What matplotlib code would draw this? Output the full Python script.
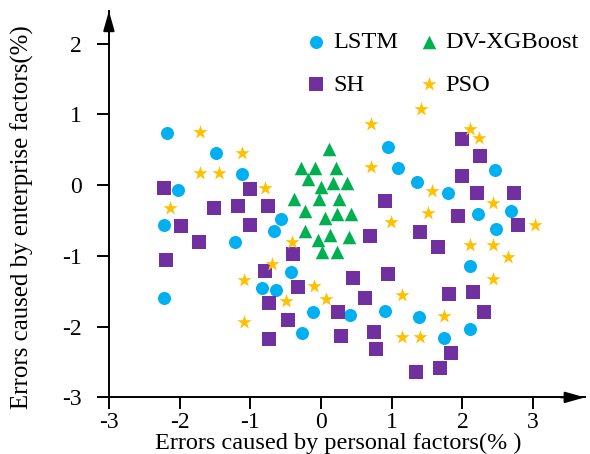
import numpy as np
import matplotlib
matplotlib.use("Agg")
from matplotlib import pyplot as plt

# Data

lstm_x = [-2.18, -1.485, -1.12, -2.03, -2.22, -0.56, -0.66, -1.22, 0.94, 1.09,
          1.36, 1.80, 2.46, 2.22, 2.69, 2.48, -0.43, -0.83, -0.64, -2.22,
          -0.11, -0.27, 0.41, 0.90, 1.38, 1.74, 2.10, 2.10]
lstm_y = [0.74, 0.45, 0.15, -0.075, -0.57, -0.48, -0.65, -0.81, 0.54, 0.235,
          0.04, -0.11, 0.22, -0.41, -0.36, -0.62, -1.23, -1.46, -1.48, -1.60,
          -1.79, -2.09, -1.84, -1.78, -1.86, -2.16, -1.14, -2.03]

xgb_x = [0.11, -0.28, -0.085, 0.21, -0.18, 0.17, 0.36, 0.0, -0.38, -0.03,
         0.26, -0.23, 0.23, 0.42, 0.06, -0.23, 0.13, 0.39, -0.04, 0.01, 0.22]
xgb_y = [0.51, 0.235, 0.235, 0.235, 0.08, 0.03, 0.03, -0.03, -0.19, -0.20,
         -0.20, -0.37, -0.41, -0.41, -0.47, -0.65, -0.71, -0.73, -0.77, -0.94, -0.94]

sh_x = [-2.22, -1.01, -1.52, -1.18, -0.75, -1.98, -1.01, -1.72, -0.39, -2.19,
        2.00, 2.25, 2.00, 2.21, 2.73, 0.90, 1.94, 2.79, 0.69, 1.40,
        1.65, -0.79, -0.33, -0.73, -0.47, -0.73, 0.45, 0.94, 0.62, 0.24,
        0.28, 0.75, 0.78, 1.81, 2.15, 2.31, 1.84, 1.68, 1.34]
sh_y = [-0.04, -0.06, -0.33, -0.29, -0.30, -0.58, -0.57, -0.81, -0.98, -1.06,
        0.645, 0.41, 0.13, -0.11, -0.11, -0.23, -0.44, -0.57, -0.72, -0.66,
        -0.88, -1.21, -1.44, -1.66, -1.90, -2.175, -1.31, -1.26, -1.60, -1.80,
        -2.13, -2.08, -2.32, -1.54, -1.51, -1.79, -2.37, -2.59, -2.64]

pso_x = [-1.71, -1.12, -1.71, -1.45, -0.79, -2.13, -0.41, 1.41, 0.71, 2.10,
         2.23, 0.71, 1.57, 2.43, 1.51, 0.99, 3.02, 2.10, 2.43, 2.64,
         -0.69, -1.09, -0.10, -0.50, 0.07, -1.09, 2.43, 1.15, 1.74, 1.15, 1.40]
pso_y = [0.75, 0.45, 0.165, 0.165, -0.04, -0.33, -0.81, 1.07, 0.86, 0.79,
         0.67, 0.26, -0.085, -0.25, -0.39, -0.52, -0.56, -0.84, -0.85, -1.02,
         -1.12, -1.34, -1.42, -1.64, -1.61, -1.935, -1.33, -1.55, -1.85, -2.15, -2.15]

xticks = [-3, -2, -1, 0, 1, 2, 3]
yticks = [-3, -2, -1, 0, 1, 2]

plt.rcParams['font.family'] = ['Liberation Serif', 'DejaVu Serif']
plt.rcParams['axes.unicode_minus'] = False

fig = plt.figure(figsize=(5.9, 4.54), dpi=100)
ax = fig.add_axes([0.1846, 0.1247, 0.8066, 0.8511])

h_lstm = ax.scatter(lstm_x, lstm_y, s=88, marker='o', color='#00B0F0', linewidths=0, label='LSTM', zorder=3)
h_xgb = ax.scatter(xgb_x, xgb_y, s=95, marker='^', color='#00B050', linewidths=0, label='DV-XGBoost', zorder=3)
h_sh = ax.scatter(sh_x, sh_y, s=88, marker='s', color='#7030A0', linewidths=0, label='SH', zorder=3)
h_pso = ax.scatter(pso_x, pso_y, s=115, marker='*', color='#FFC000', linewidths=0, label='PSO', zorder=3)

ax.set_xlim(-3, 3.73)
ax.set_ylim(-3, 2.46)
ax.set_xticks(xticks)
ax.set_yticks(yticks)
ax.spines['top'].set_visible(False)
ax.spines['right'].set_visible(False)
for s in ['left', 'bottom']:
    ax.spines[s].set_linewidth(1.4)
ax.tick_params(axis='both', direction='out', length=8.8, width=1.4, labelsize=17)
ax.tick_params(axis='x', pad=2)
ax.tick_params(axis='y', pad=11)

# arrow heads
arrow = dict(arrowstyle='-|>,head_length=0.6,head_width=0.17', mutation_scale=20,
             color='k', lw=1.4, shrinkA=0, shrinkB=0)
ax.annotate('', xy=(1, 0), xytext=(0.95, 0), xycoords='axes fraction', arrowprops=arrow)
ax.annotate('', xy=(0, 1), xytext=(0, 0.95), xycoords='axes fraction', arrowprops=arrow)

ax.set_xlabel('Errors caused by personal factors(% )', fontsize=17.5, va='center')
ax.xaxis.set_label_coords(0.4815, -0.12)
ax.set_ylabel('Errors caused by enterprise factors(%)', fontsize=17.9, va='center')
ax.yaxis.set_label_coords(-0.181, 0.467)

# row order: LSTM, DV-XGBoost / SH, PSO
leg = ax.legend([h_lstm, h_sh, h_xgb, h_pso], ['LSTM', 'SH', 'DV-XGBoost', 'PSO'],
                ncol=2, frameon=False, fontsize=17.6, loc='upper left',
                bbox_to_anchor=(0.519, 0.932), bbox_transform=fig.transFigure,
                borderpad=0, handlelength=0.8, handletextpad=0.3,
                columnspacing=0.85, labelspacing=0.85, borderaxespad=0)

fig.savefig('out.png', dpi=100)
